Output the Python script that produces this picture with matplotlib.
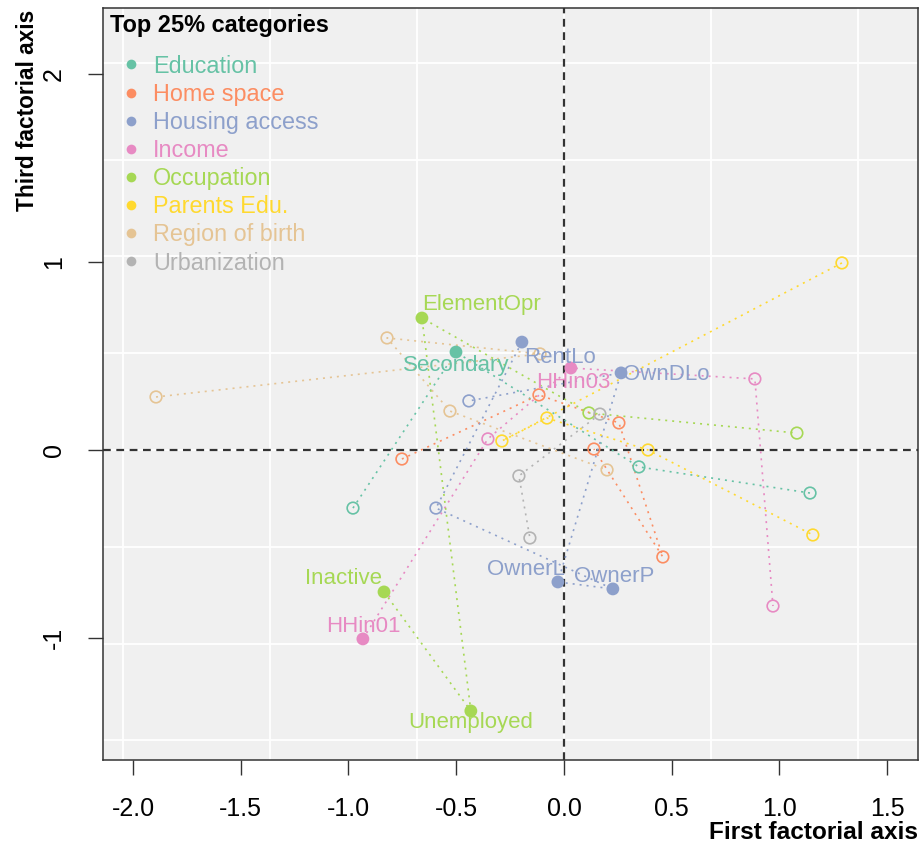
import matplotlib.pyplot as plt
import numpy as np
from matplotlib.lines import Line2D

plt.rcParams["font.family"] = ["Liberation Sans", "DejaVu Sans"]
plt.rcParams["axes.unicode_minus"] = False

variables = ["Education", "Home space", "Housing access", "Income",
             "Occupation", "Parents Edu.", "Region of birth", "Urbanization"]
colors = ["#66C2A5", "#FC8D62", "#8DA0CB", "#E78AC3",
          "#A6D854", "#FFD92F", "#E5C494", "#B3B3B3"]

# categories of each variable, listed in the order they are joined
edu_x = [-0.979, -0.501, 0.348, 1.142]
edu_y = [-0.309, 0.521, -0.090, -0.229]
edu_lab = ["", "Secondary", "", ""]

home_x = [-0.752, -0.116, 0.255, 0.459, 0.139]
home_y = [-0.048, 0.293, 0.144, -0.569, 0.005]
home_lab = ["", "", "", "", ""]

hous_x = [-0.195, -0.594, 0.227, -0.028, 0.265, -0.441]
hous_y = [0.574, -0.309, -0.739, -0.702, 0.410, 0.261]
hous_lab = ["RentLo", "", "OwnerP", "OwnerL", "OwnDLo", ""]

inc_x = [-0.933, -0.353, 0.032, 0.886, 0.970]
inc_y = [-1.005, 0.059, 0.436, 0.378, -0.830]
inc_lab = ["HHin01", "", "HHin03", "", ""]

occ_x = [-0.835, -0.432, -0.659, 0.116, 1.081]
occ_y = [-0.755, -1.388, 0.702, 0.197, 0.090]
occ_lab = ["Inactive", "Unemployed", "ElementOpr", "", ""]

par_x = [1.290, -0.288, -0.079, 0.390, 1.155]
par_y = [0.995, 0.048, 0.170, 0.000, -0.452]
par_lab = ["", "", "", "", ""]

reg_x = [-1.893, -0.111, -0.821, -0.529, 0.200]
reg_y = [0.282, 0.511, 0.596, 0.207, -0.106]
reg_lab = ["", "", "", "", ""]

urb_x = [0.167, -0.209, -0.158]
urb_y = [0.191, -0.138, -0.468]
urb_lab = ["", "", ""]

groups = [(edu_x, edu_y, edu_lab), (home_x, home_y, home_lab),
          (hous_x, hous_y, hous_lab), (inc_x, inc_y, inc_lab),
          (occ_x, occ_y, occ_lab), (par_x, par_y, par_lab),
          (reg_x, reg_y, reg_lab), (urb_x, urb_y, urb_lab)]

# where each label sits relative to its point (pixels) and its alignment
label_place = {
    "Secondary": (0, -13, "center"),
    "ElementOpr": (0, 14, "left"),
    "RentLo": (2, -15, "left"),
    "HHin03": (2, -14, "center"),
    "OwnDLo": (2, -2, "left"),
    "OwnerL": (7, 12, "right"),
    "OwnerP": (1, 12, "center"),
    "Inactive": (-2, 13, "right"),
    "HHin01": (0, 12, "center"),
    "Unemployed": (0, -12, "center"),
}

fig, ax = plt.subplots(figsize=(9.2, 8.49), dpi=100)
fig.subplots_adjust(left=103 / 920, right=918 / 920,
                    bottom=1 - 760 / 849, top=1 - 8 / 849)

ax.set_facecolor("#F0F0F0")
for gx in np.arange(-3, 4) * 0.682:
    ax.axvline(gx, color="white", lw=1.3, zorder=0.5)
for gy in np.arange(-4, 5) * 0.515:
    ax.axhline(gy, color="white", lw=1.3, zorder=0.5)

ax.axhline(0, color="#333333", lw=1.6, ls=(0, (3.5, 2.5)), zorder=1)
ax.axvline(0, color="#333333", lw=1.6, ls=(0, (3.5, 2.5)), zorder=1)

for (gx, gy, glab), col in zip(groups, colors):
    ax.plot(gx, gy, color=col, lw=1.2, ls=(0, (1.2, 3)), zorder=2)
    top = [i for i, s in enumerate(glab) if s]
    rest = [i for i, s in enumerate(glab) if not s]
    ax.scatter([gx[i] for i in rest], [gy[i] for i in rest], s=70,
               facecolors="none", edgecolors=col, linewidths=1.2, zorder=3)
    ax.scatter([gx[i] for i in top], [gy[i] for i in top], s=85,
               color=col, edgecolors="none", zorder=3)
    for i in top:
        dx, dy, ha = label_place[glab[i]]
        ax.annotate(glab[i], (gx[i], gy[i]), xytext=(dx, dy),
                    textcoords="offset pixels", ha=ha, va="center",
                    color=col, fontsize=16, zorder=4)

ax.set_xlim(-2.139, 1.643)
ax.set_ylim(-1.649, 2.351)

xt = np.arange(-2.0, 2.0, 0.5)
ax.set_xticks(xt)
ax.set_xticklabels([f"{v:.1f}" for v in xt])
yt = [-1, 0, 1, 2]
ax.set_yticks(yt)
ax.set_yticklabels([str(v) for v in yt], rotation=90, va="center")
ax.tick_params(axis="both", length=10.8, width=1, color="#333333",
               labelsize=18, pad=16, labelcolor="black")
for sp in ax.spines.values():
    sp.set_color("#333333")
    sp.set_linewidth(1.1)

ax.set_xlabel("First factorial axis", fontsize=17.6, fontweight="bold",
              loc="right")
ax.xaxis.set_label_coords(1.0, -0.081)
ax.set_ylabel("Third factorial axis", fontsize=16.3, fontweight="bold",
              loc="top")
ax.yaxis.set_label_coords(-0.078, 0.997)

ax.text(0.0086, 0.977, "Top 25% categories", transform=ax.transAxes,
        fontsize=16.9, fontweight="bold", ha="left", va="center")

handles = [Line2D([], [], ls="", marker="o", markersize=7, color=c,
                  markeredgewidth=0) for c in colors]
leg = ax.legend(handles, variables, loc="upper left",
                bbox_to_anchor=(0.0086, 0.938), borderaxespad=0,
                borderpad=0, frameon=False, fontsize=16.8,
                labelcolor=colors, handlelength=1.8, handletextpad=0.05,
                labelspacing=0.22)

fig.savefig("out.png", dpi=100)
